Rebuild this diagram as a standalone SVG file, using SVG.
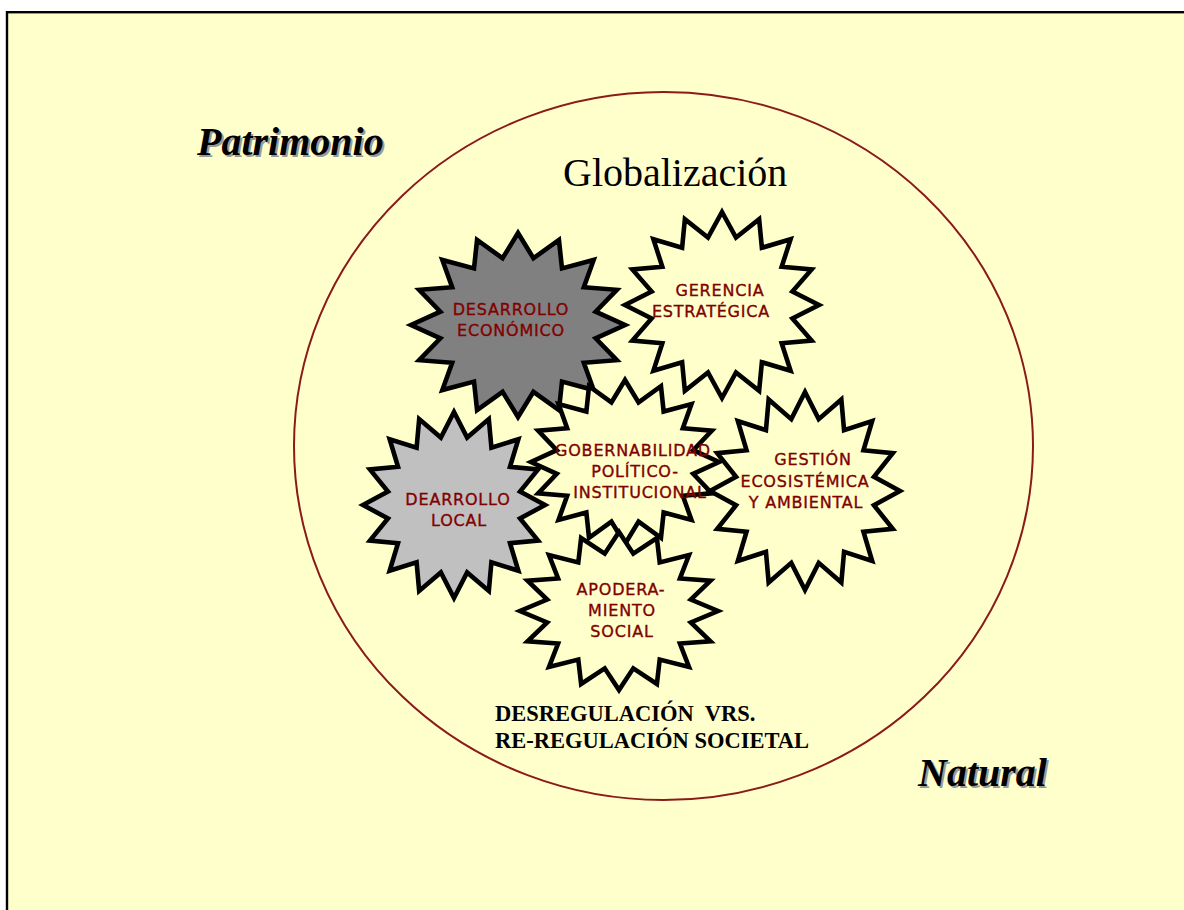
<svg xmlns="http://www.w3.org/2000/svg" width="1184" height="910" viewBox="0 0 1184 910">
<style>
.star{stroke:#000;stroke-width:4.6;stroke-linejoin:miter;stroke-miterlimit:10;vector-effect:non-scaling-stroke}
.w{fill:#FFFFCC}
.dg{fill:#808080}
.lg{fill:#C0C0C0}
.lbl{font-family:"DejaVu Sans","Verdana",sans-serif;font-size:16px;letter-spacing:0.8px;fill:#800000;stroke:#800000;stroke-width:0.35px;text-anchor:middle}
.big{font-family:"Liberation Serif","Times New Roman",serif;font-size:40px;fill:#000}
.bi{font-family:"Liberation Serif","Times New Roman",serif;font-size:40px;font-weight:bold;font-style:italic}
.reg{font-family:"Liberation Serif","Times New Roman",serif;font-size:22.5px;font-weight:bold;fill:#000;white-space:pre}
</style>
<defs>
<path id="star" d="M0,-1 L0.14437,-0.72578 L0.38268,-0.92388 L0.41112,-0.61529 L0.70711,-0.70711 L0.61529,-0.41112 L0.92388,-0.38268 L0.72578,-0.14437 L1,0 L0.72578,0.14437 L0.92388,0.38268 L0.61529,0.41112 L0.70711,0.70711 L0.41112,0.61529 L0.38268,0.92388 L0.14437,0.72578 L0,1 L-0.14437,0.72578 L-0.38268,0.92388 L-0.41112,0.61529 L-0.70711,0.70711 L-0.61529,0.41112 L-0.92388,0.38268 L-0.72578,0.14437 L-1,0 L-0.72578,-0.14437 L-0.92388,-0.38268 L-0.61529,-0.41112 L-0.70711,-0.70711 L-0.41112,-0.61529 L-0.38268,-0.92388 L-0.14437,-0.72578 Z"/>
</defs>
<rect x="0" y="0" width="1184" height="910" fill="#fff"/>
<rect x="7" y="12.2" width="1190" height="910" fill="#FFFFCC" stroke="#000" stroke-width="2.4"/>
<ellipse cx="663.5" cy="446" rx="369.5" ry="354" fill="none" stroke="#8B1A1A" stroke-width="2"/>

<g id="patrimonio">
<text class="bi" x="199" y="157" fill="#9a9a9a">Patrimonio</text>
<text class="bi" x="197" y="155" fill="#000">Patrimonio</text>
</g>
<g id="natural">
<text class="bi" x="920" y="788" fill="#9a9a9a">Natural</text>
<text class="bi" x="918" y="786" fill="#000">Natural</text>
</g>
<text id="globalizacion" class="big" x="563" y="186">Globalización</text>

<g id="connectors"></g>

<g id="desarrollo-economico">
<path class="star dg" d="M0,-1 L0.14437,-0.72578 L0.38268,-0.92388 L0.41112,-0.61529 L0.70711,-0.70711 L0.61529,-0.41112 L0.92388,-0.38268 L0.72578,-0.14437 L1,0 L0.72578,0.14437 L0.92388,0.38268 L0.61529,0.41112 L0.70711,0.70711 L0.41112,0.61529 L0.38268,0.92388 L0.14437,0.72578 L0,1 L-0.14437,0.72578 L-0.38268,0.92388 L-0.41112,0.61529 L-0.70711,0.70711 L-0.61529,0.41112 L-0.92388,0.38268 L-0.72578,0.14437 L-1,0 L-0.72578,-0.14437 L-0.92388,-0.38268 L-0.61529,-0.41112 L-0.70711,-0.70711 L-0.41112,-0.61529 L-0.38268,-0.92388 L-0.14437,-0.72578 Z" transform="translate(518,325) scale(107,92)"/>
<text class="lbl" x="511" y="315">DESARROLLO</text>
<text class="lbl" x="511" y="336">ECONÓMICO</text>
</g>

<g id="gerencia-estrategica">
<path class="star w" d="M0,-1 L0.14437,-0.72578 L0.38268,-0.92388 L0.41112,-0.61529 L0.70711,-0.70711 L0.61529,-0.41112 L0.92388,-0.38268 L0.72578,-0.14437 L1,0 L0.72578,0.14437 L0.92388,0.38268 L0.61529,0.41112 L0.70711,0.70711 L0.41112,0.61529 L0.38268,0.92388 L0.14437,0.72578 L0,1 L-0.14437,0.72578 L-0.38268,0.92388 L-0.41112,0.61529 L-0.70711,0.70711 L-0.61529,0.41112 L-0.92388,0.38268 L-0.72578,0.14437 L-1,0 L-0.72578,-0.14437 L-0.92388,-0.38268 L-0.61529,-0.41112 L-0.70711,-0.70711 L-0.41112,-0.61529 L-0.38268,-0.92388 L-0.14437,-0.72578 Z" transform="translate(722,305) scale(97,93)"/>
<text class="lbl" x="720" y="296">GERENCIA</text>
<text class="lbl" x="711" y="317">ESTRATÉGICA</text>
</g>

<g id="desarrollo-local">
<path class="star lg" d="M0,-1 L0.14437,-0.72578 L0.38268,-0.92388 L0.41112,-0.61529 L0.70711,-0.70711 L0.61529,-0.41112 L0.92388,-0.38268 L0.72578,-0.14437 L1,0 L0.72578,0.14437 L0.92388,0.38268 L0.61529,0.41112 L0.70711,0.70711 L0.41112,0.61529 L0.38268,0.92388 L0.14437,0.72578 L0,1 L-0.14437,0.72578 L-0.38268,0.92388 L-0.41112,0.61529 L-0.70711,0.70711 L-0.61529,0.41112 L-0.92388,0.38268 L-0.72578,0.14437 L-1,0 L-0.72578,-0.14437 L-0.92388,-0.38268 L-0.61529,-0.41112 L-0.70711,-0.70711 L-0.41112,-0.61529 L-0.38268,-0.92388 L-0.14437,-0.72578 Z" transform="translate(454,505) scale(91,93)"/>
<text class="lbl" x="458" y="505">DEARROLLO</text>
<text class="lbl" x="459" y="526">LOCAL</text>
</g>

<g id="gobernabilidad">
<path class="star w" d="M0,-1 L0.14437,-0.72578 L0.38268,-0.92388 L0.41112,-0.61529 L0.70711,-0.70711 L0.61529,-0.41112 L0.92388,-0.38268 L0.72578,-0.14437 L1,0 L0.72578,0.14437 L0.92388,0.38268 L0.61529,0.41112 L0.70711,0.70711 L0.41112,0.61529 L0.38268,0.92388 L0.14437,0.72578 L0,1 L-0.14437,0.72578 L-0.38268,0.92388 L-0.41112,0.61529 L-0.70711,0.70711 L-0.61529,0.41112 L-0.92388,0.38268 L-0.72578,0.14437 L-1,0 L-0.72578,-0.14437 L-0.92388,-0.38268 L-0.61529,-0.41112 L-0.70711,-0.70711 L-0.41112,-0.61529 L-0.38268,-0.92388 L-0.14437,-0.72578 Z" transform="translate(625,462) scale(94,82)"/>
<text class="lbl" x="633" y="456">GOBERNABILIDAD</text>
<text class="lbl" x="635" y="477">POLÍTICO-</text>
<text class="lbl" x="640" y="498">INSTITUCIONAL</text>
</g>

<g id="gestion-ecosistemica">
<path class="star w" d="M0,-1 L0.14437,-0.72578 L0.38268,-0.92388 L0.41112,-0.61529 L0.70711,-0.70711 L0.61529,-0.41112 L0.92388,-0.38268 L0.72578,-0.14437 L1,0 L0.72578,0.14437 L0.92388,0.38268 L0.61529,0.41112 L0.70711,0.70711 L0.41112,0.61529 L0.38268,0.92388 L0.14437,0.72578 L0,1 L-0.14437,0.72578 L-0.38268,0.92388 L-0.41112,0.61529 L-0.70711,0.70711 L-0.61529,0.41112 L-0.92388,0.38268 L-0.72578,0.14437 L-1,0 L-0.72578,-0.14437 L-0.92388,-0.38268 L-0.61529,-0.41112 L-0.70711,-0.70711 L-0.41112,-0.61529 L-0.38268,-0.92388 L-0.14437,-0.72578 Z" transform="translate(805,491) scale(95,99)"/>
<text class="lbl" x="813" y="465">GESTIÓN</text>
<text class="lbl" x="805" y="487">ECOSISTÉMICA</text>
<text class="lbl" x="806" y="508">Y AMBIENTAL</text>
</g>

<g id="apoderamiento">
<path class="star w" d="M0,-1 L0.14437,-0.72578 L0.38268,-0.92388 L0.41112,-0.61529 L0.70711,-0.70711 L0.61529,-0.41112 L0.92388,-0.38268 L0.72578,-0.14437 L1,0 L0.72578,0.14437 L0.92388,0.38268 L0.61529,0.41112 L0.70711,0.70711 L0.41112,0.61529 L0.38268,0.92388 L0.14437,0.72578 L0,1 L-0.14437,0.72578 L-0.38268,0.92388 L-0.41112,0.61529 L-0.70711,0.70711 L-0.61529,0.41112 L-0.92388,0.38268 L-0.72578,0.14437 L-1,0 L-0.72578,-0.14437 L-0.92388,-0.38268 L-0.61529,-0.41112 L-0.70711,-0.70711 L-0.41112,-0.61529 L-0.38268,-0.92388 L-0.14437,-0.72578 Z" transform="translate(619,611) scale(99,79)"/>
<text class="lbl" x="621" y="595">APODERA-</text>
<text class="lbl" x="622" y="616">MIENTO</text>
<text class="lbl" x="622" y="637">SOCIAL</text>
</g>

<g id="regulacion">
<text class="reg" x="495" y="721">DESREGULACIÓN  VRS.</text>
<text class="reg" x="495" y="748">RE-REGULACIÓN SOCIETAL</text>
</g>
</svg>
